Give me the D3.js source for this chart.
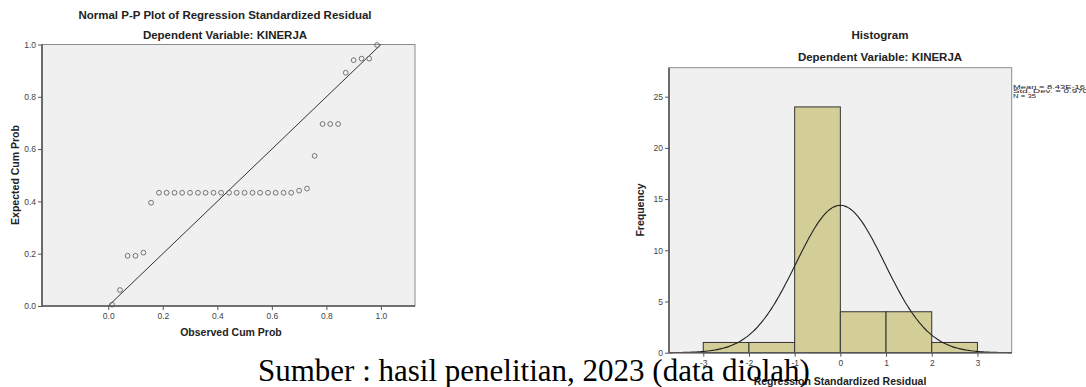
<!DOCTYPE html>
<html><head><meta charset="utf-8">
<script src="https://cdn.jsdelivr.net/npm/d3@7"></script>
<style>body{margin:0;background:#fff}svg{display:block}</style>
</head><body>
<svg id="c" width="1086" height="387" font-family="Liberation Sans, Arial, sans-serif"></svg>
<script>
// ---------- P-P plot data ----------
const ppObserved = [0.014,0.043,0.071,0.100,0.129,0.157,0.186,0.214,0.243,0.271,0.300,0.329,0.357,0.386,0.414,0.443,0.471,0.500,0.529,0.557,0.586,0.614,0.643,0.671,0.700,0.729,0.757,0.786,0.814,0.843,0.871,0.900,0.929,0.957,0.986];
const ppExpected = [0.005,0.061,0.192,0.192,0.204,0.395,0.433,0.433,0.433,0.433,0.433,0.433,0.433,0.433,0.433,0.433,0.433,0.433,0.433,0.433,0.433,0.433,0.433,0.433,0.441,0.449,0.574,0.696,0.696,0.696,0.892,0.940,0.946,0.946,0.998];
const ppTicks = [0.0,0.2,0.4,0.6,0.8,1.0];
// ---------- Histogram data ----------
const binStarts = [-3,-2,-1,0,1,2];
const binCounts = [1,1,24,4,4,1];
const histXTicks = [-3,-2,-1,0,1,2,3];
const histYTicks = [0,5,10,15,20,25];
const statMean = 8.43e-16, statSD = 0.970, statN = 35;
const legendLines = ["Mean = 8.43E-16","Std. Dev. = 0.970","N = 35"];

const SANS = "Liberation Sans, Arial, sans-serif";
const svg = d3.select("#c");

// ================= LEFT: P-P plot =================
const L = {x0:42, x1:415, y0:44.5, y1:306};
const px = d3.scaleLinear().domain([-0.243,1.125]).range([L.x0,L.x1]);
const py = d3.scaleLinear().domain([0,1]).range([L.y1,L.y0]);

svg.append("rect").attr("x",L.x0).attr("y",L.y0).attr("width",L.x1-L.x0).attr("height",L.y1-L.y0)
  .attr("fill","#f0f0f0").attr("stroke","#8c8c8c").attr("stroke-width",1);

svg.append("text").attr("x",225).attr("y",19).attr("text-anchor","middle")
  .attr("font-size","11.5px").attr("font-weight","bold").attr("fill","#222")
  .text("Normal P-P Plot of Regression Standardized Residual");
svg.append("text").attr("x",225).attr("y",39).attr("text-anchor","middle")
  .attr("font-size","11.5px").attr("font-weight","bold").attr("fill","#222")
  .text("Dependent Variable: KINERJA");

// diagonal
svg.append("line").attr("x1",px(0)).attr("y1",py(0)).attr("x2",px(1)).attr("y2",py(1))
  .attr("stroke","#333").attr("stroke-width",1);

// points
svg.append("g").selectAll("circle").data(ppObserved).join("circle")
  .attr("cx",d=>px(d)).attr("cy",(d,i)=>py(ppExpected[i])).attr("r",2.4)
  .attr("fill","none").attr("stroke","#666").attr("stroke-width",0.9);

// axes
const pyAxis = svg.append("g").attr("transform",`translate(${L.x0},0)`)
  .call(d3.axisLeft(py).tickValues(ppTicks).tickFormat(d3.format(".1f")).tickSize(4).tickPadding(2));
const pxAxis = svg.append("g").attr("transform",`translate(0,${L.y1})`)
  .call(d3.axisBottom(px).tickValues(ppTicks).tickFormat(d3.format(".1f")).tickSize(4).tickPadding(3));
[pyAxis,pxAxis].forEach(a=>{
  a.attr("font-family",SANS).attr("font-size",8.5);
  a.select(".domain").attr("stroke","#555").attr("stroke-width",1.6);
  a.selectAll(".tick line").attr("stroke","#555");
  a.selectAll(".tick text").attr("fill","#444");
});
pxAxis.select(".domain").attr("d",`M${L.x0},0H${L.x1}`);
pyAxis.select(".domain").attr("d",`M0,${L.y1}V${L.y0}`);

svg.append("text").attr("transform","translate(19,175) rotate(-90)").attr("text-anchor","middle")
  .attr("font-size","10.5px").attr("font-weight","bold").attr("fill","#222").text("Expected Cum Prob");
svg.append("text").attr("x",px(0.45)).attr("y",336).attr("text-anchor","middle")
  .attr("font-size","10.5px").attr("font-weight","bold").attr("fill","#222").text("Observed Cum Prob");

// ================= RIGHT: Histogram =================
const R = {x0:669, x1:1011.7, y0:67.7, y1:352.7};
const hx = d3.scaleLinear().domain([-3.75,3.75]).range([R.x0,R.x1]);
const hy = d3.scaleLinear().domain([0,27.83]).range([R.y1,R.y0]);

svg.append("rect").attr("x",R.x0).attr("y",R.y0).attr("width",R.x1-R.x0).attr("height",R.y1-R.y0)
  .attr("fill","#f0f0f0").attr("stroke","#8c8c8c").attr("stroke-width",1);

svg.append("text").attr("x",880).attr("y",39).attr("text-anchor","middle")
  .attr("font-size","11.5px").attr("font-weight","bold").attr("fill","#222").text("Histogram");
svg.append("text").attr("x",880).attr("y",61).attr("text-anchor","middle")
  .attr("font-size","11.5px").attr("font-weight","bold").attr("fill","#222").text("Dependent Variable: KINERJA");

svg.append("g").selectAll("rect").data(binStarts).join("rect")
  .attr("x",d=>hx(d)).attr("width",d=>hx(d+1)-hx(d))
  .attr("y",(d,i)=>hy(binCounts[i])).attr("height",(d,i)=>hy(0)-hy(binCounts[i]))
  .attr("fill","#d3ce97").attr("stroke","#333").attr("stroke-width",1);

// normal curve from stated mean / sd / N (bin width 1)
const curveX = d3.range(-3.75,3.7501,0.05);
const pdf = x => statN*1/(statSD*Math.sqrt(2*Math.PI))*Math.exp(-0.5*Math.pow((x-statMean)/statSD,2));
svg.append("path").datum(curveX)
  .attr("d",d3.line().x(d=>hx(d)).y(d=>hy(pdf(d))).curve(d3.curveBasis))
  .attr("fill","none").attr("stroke","#222").attr("stroke-width",1.1);

const hyAxis = svg.append("g").attr("transform",`translate(${R.x0},0)`)
  .call(d3.axisLeft(hy).tickValues(histYTicks).tickSize(4).tickPadding(2));
const hxAxis = svg.append("g").attr("transform",`translate(0,${R.y1})`)
  .call(d3.axisBottom(hx).tickValues(histXTicks).tickFormat(d=>d<0?"-"+Math.abs(d):d).tickSize(4).tickPadding(3));
[hyAxis,hxAxis].forEach(a=>{
  a.attr("font-family",SANS).attr("font-size",8.5);
  a.select(".domain").attr("stroke","#555").attr("stroke-width",1.6);
  a.selectAll(".tick line").attr("stroke","#555");
  a.selectAll(".tick text").attr("fill","#444");
});
hxAxis.select(".domain").attr("d",`M${R.x0},0H${R.x1}`);
hyAxis.select(".domain").attr("d",`M0,${R.y1}V${R.y0}`);

svg.append("text").attr("transform","translate(644,210) rotate(-90)").attr("text-anchor","middle")
  .attr("font-size","10.5px").attr("font-weight","bold").attr("fill","#222").text("Frequency");
svg.append("text").attr("x",840).attr("y",385).attr("text-anchor","middle")
  .attr("font-size","10.5px").attr("font-weight","bold").attr("fill","#222").text("Regression Standardized Residual");

// legend
const lg = svg.append("g");
lg.selectAll("text").data(legendLines).join("text")
  .attr("x",1013).attr("y",(d,i)=>88.5+i*4.8)
  .attr("font-size","5.6px").attr("fill","#222")
  .attr("textLength",(d,i)=>[72,75,23][i]).attr("lengthAdjust","spacingAndGlyphs")
  .text(d=>d);

// caption
svg.append("text").attr("x",258).attr("y",381)
  .attr("font-family","Liberation Serif, Times New Roman, serif").attr("font-size","31px").attr("fill","#000")
  .text("Sumber : hasil penelitian, 2023 (data diolah)");
</script>
</body></html>
